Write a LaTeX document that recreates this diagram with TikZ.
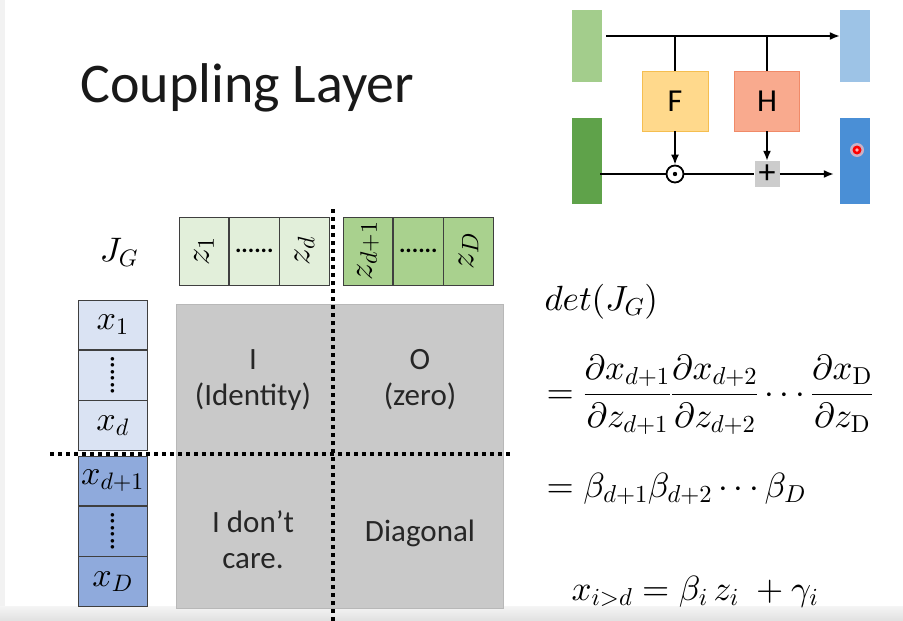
\documentclass[tikz,border=0pt]{standalone}
\usepackage{amsmath}
\usepackage[no-math]{fontspec}
\setmainfont{Carlito}
\usetikzlibrary{positioning,arrows.meta}
% scalable math fonts
\DeclareFontShape{OML}{cmm}{m}{it}{<->cmmi10}{\skewchar\font=127}
\DeclareFontShape{OMS}{cmsy}{m}{n}{<->cmsy10}{\skewchar\font=48}
\DeclareFontShape{OT1}{cmr}{m}{n}{<->cmr10}{}
\DeclareFontShape{OMX}{cmex}{m}{n}{<->cmex10}{}

\definecolor{inlight}{HTML}{A3CD8C}
\definecolor{indark}{HTML}{5FA24A}
\definecolor{outlight}{HTML}{9DC3E6}
\definecolor{outdark}{HTML}{4A8FD6}
\definecolor{ffill}{HTML}{FFD98C}
\definecolor{fborder}{HTML}{F5BE50}
\definecolor{hfill}{HTML}{F9AA8E}
\definecolor{hborder}{HTML}{F08A68}
\definecolor{zlight}{HTML}{E2EFDA}
\definecolor{zdark}{HTML}{A9D18E}
\definecolor{xlight}{HTML}{DAE3F3}
\definecolor{xdark}{HTML}{8FAADC}
\definecolor{matgray}{HTML}{C9C9C9}
\definecolor{cellline}{HTML}{3F3F3F}

\tikzset{
  block/.style={inner sep=0pt,minimum width=30pt},
  arr/.style={line width=1.6pt,-{Latex[length=10pt,width=8pt]}},
  wire/.style={line width=1.6pt},
  zcell/.style={draw=cellline,line width=0.8pt,inner sep=0pt,minimum width=49.5pt,minimum height=68pt,font=\fontsize{34}{34}\selectfont},
  xcell/.style={draw=cellline,line width=0.8pt,inner sep=0pt,minimum width=69pt,minimum height=49.5pt,font=\fontsize{34}{34}\selectfont},
  celltext/.style={align=center,font=\fontsize{31}{36}\selectfont,text=black!85},
  dotline/.style={line width=4pt,dash pattern=on 4pt off 4pt},
  eqn/.style={font=\fontsize{35}{40}\selectfont}
}
\newcommand{\celldots}{\textbf{\fontsize{24}{24}\selectfont ......}}

\begin{document}
\begin{tikzpicture}[x=1pt,y=-1pt]
\useasboundingbox (0,0) rectangle (903,621);
\fill[white] (0,0) rectangle (903,621);
\fill[black!5] (0,0) rectangle (5,621);
\shade[top color=black!4,bottom color=black!12] (0,606) rectangle (903,621);

% title
\node[anchor=base west,font=\fontsize{56}{60}\selectfont,text=black!90] (title) at (77,102) {Coupling Layer};

% coupling block
\node[block,fill=inlight,minimum height=72pt] (inA) at (587,46) {};
\node[block,fill=indark,minimum height=86pt] (inB) at (587,161) {};
\node[block,fill=outlight,minimum height=72pt] (outA) at (855,46) {};
\node[block,fill=outdark,minimum height=86pt] (outB) at (855,161) {};
\node[draw=fborder,fill=ffill,line width=0.8pt,minimum width=66pt,minimum height=60pt,font=\fontsize{32}{32}\selectfont] (F) at (675,101) {F};
\node[draw=hborder,fill=hfill,line width=0.8pt,minimum width=65pt,minimum height=60pt,font=\fontsize{32}{32}\selectfont] (H) at (767,101) {H};
\node[circle,draw,line width=1.8pt,minimum size=17pt,inner sep=0pt] (odot) at (675,174) {};
\fill (odot) circle (2.2pt);
\node[fill=black!20,minimum width=25pt,minimum height=26pt,inner sep=0pt,font=\fontsize{34}{34}\selectfont] (plus) at (767,174) {+};
\coordinate (topL) at (606,36);
\draw[arr] (topL) -- (outA.west |- topL);
\draw[wire] (F.north |- topL) -- (F.north);
\draw[wire] (H.north |- topL) -- (H.north);
\draw[arr] (F.south) -- (odot.north);
\draw[arr] (H.south) -- (plus.north);
\draw[wire] ([xshift=-2pt]inB.east |- odot) -- (odot.west);
\draw[wire] (odot.east) -- (plus.west);
\draw[arr] (plus.east) -- ([xshift=-6pt]outB.west |- plus);
% cursor mark
\fill[red!25,opacity=0.7] (857,150) circle (7pt);
\fill[red] (857,150) circle (4.5pt);
\fill[red!30] (857,150) circle (1.8pt);

% jacobian
\node[font=\fontsize{34}{36}\selectfont] (jg) at (119,252) {$J_G$};
\node[zcell,fill=zlight] (z1) at (204,251) {\rotatebox{90}{$z_1$}};
\node[zcell,fill=zlight,right=0pt of z1] (z1-dots) {\celldots};
\node[zcell,fill=zlight,right=0pt of z1-dots] (zd) {\rotatebox{90}{$z_d$}};
\node[zcell,fill=zdark] (zd1) at (368,251) {\rotatebox{90}{$z_{d+1}$}};
\node[zcell,fill=zdark,right=0pt of zd1] (zd1-dots) {\celldots};
\node[zcell,fill=zdark,right=0pt of zd1-dots] (zD) {\rotatebox{90}{$z_D$}};

\node[xcell,fill=xlight] (x1) at (112.5,325) {$x_1$};
\node[xcell,fill=xlight,below=0pt of x1] (x1-dots) {\rotatebox{90}{\celldots}};
\node[xcell,fill=xlight,below=0pt of x1-dots] (xd) {$x_d$};
\node[xcell,fill=xdark] (xd1) at (112.5,481) {$x_{d+1}$};
\node[xcell,fill=xdark,below=0pt of xd1] (xd1-dots) {\rotatebox{90}{\celldots}};
\node[xcell,fill=xdark,below=0pt of xd1-dots] (xD) {$x_D$};

\node[fill=matgray,draw=black!28,line width=0.6pt,minimum width=327pt,minimum height=304pt] (mat) at (339.5,456) {};
\node[celltext] (ident) at (253,380) {I\\(Identity)};
\node[celltext] (zero) at (420,380) {O\\(zero)};
\node[celltext] (care) at (253,540) {I don’t\\care.};
\node[celltext] (diag) at (420,533) {Diagonal};

\coordinate (vtop) at (333,209);
\coordinate (vbot) at (333,621);
\coordinate (hleft) at (50,454);
\coordinate (hright) at (512,454);
\draw[dotline] (vtop) -- (vbot);
\draw[dotline] (hleft) -- (hright);

% determinant
\node[eqn,anchor=base west] (det) at (541,310) {$det(J_G)$};
\node[eqn,anchor=west] (eq1) at (543,395) {$=\dfrac{\partial x_{d+1}}{\partial z_{d+1}}\dfrac{\partial x_{d+2}}{\partial z_{d+2}}\cdots\dfrac{\partial x_{\mathrm{D}}}{\partial z_{\mathrm{D}}}$};
\node[eqn,anchor=base west] (eq2) at (543,497) {$=\beta_{d+1}\beta_{d+2}\cdots\beta_D$};
\node[eqn,anchor=base west] (eq3) at (568,600) {$x_{i>d}=\beta_i\,z_i\;+\gamma_i$};
\end{tikzpicture}
\end{document}
